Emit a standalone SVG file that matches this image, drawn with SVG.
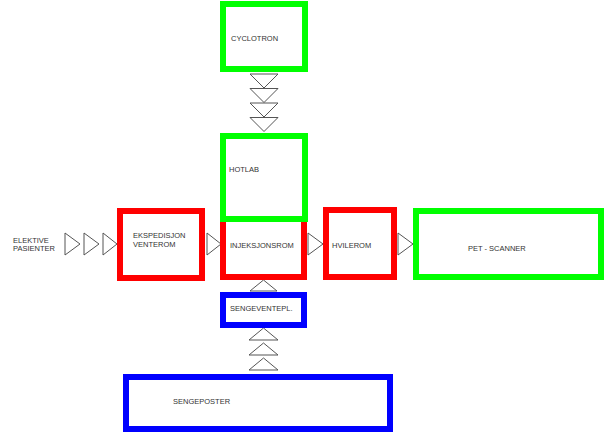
<svg xmlns="http://www.w3.org/2000/svg" width="609" height="443" viewBox="0 0 609 443">
<style>
.box{fill:#fff;stroke-width:6}
.r{stroke:#ff0000}.g{stroke:#00ff00}.b{stroke:#0000ff}
.tri{fill:#fff;stroke:#555;stroke-width:1}
text{font-family:"Liberation Sans",Arial,sans-serif;font-size:7.5px;fill:#333}
</style>
<rect width="609" height="443" fill="#fff"/>
<g id="connectors">
<polygon class="tri" points="65,233 80,244 65,255"/>
<polygon class="tri" points="84,233 99,244 84,255"/>
<polygon class="tri" points="103,233 117,244 103,255"/>
<polygon class="tri" points="207,233 221,244 207,255"/>
<polygon class="tri" points="308,233 323,244 308,255"/>
<polygon class="tri" points="398,233 413,244 398,255"/>
<polygon class="tri" points="250,74 278,74 264,88"/>
<polygon class="tri" points="250,88.5 278,88.5 264,102.5"/>
<polygon class="tri" points="250,103 278,103 264,117"/>
<polygon class="tri" points="250,117.5 278,117.5 264,131.5"/>
<polygon class="tri" points="250,291 277,291 263.5,280"/>
<polygon class="tri" points="249,340 278,340 263.5,328"/>
<polygon class="tri" points="249,355 278,355 263.5,343"/>
<polygon class="tri" points="249,370 278,370 263.5,358"/>
</g>
<g id="elektive"><text x="13" y="243">ELEKTIVE</text><text x="13" y="251">PASIENTER</text></g>
<g id="cyclotron"><rect class="box g" x="223" y="4" width="82" height="65"/><text x="231" y="41">CYCLOTRON</text></g>
<g id="ekspedisjon"><rect class="box r" x="120" y="211" width="82" height="67"/><text x="133" y="238">EKSPEDISJON</text><text x="133" y="247">VENTEROM</text></g>
<g id="injeksjonsrom"><rect class="box r" x="223" y="211" width="81" height="66"/><text x="230" y="248">INJEKSJONSROM</text></g>
<g id="hotlab"><rect class="box g" x="223" y="136" width="82" height="83"/><text x="229" y="172">HOTLAB</text></g>
<g id="hvilerom"><rect class="box r" x="326" y="210" width="68" height="67"/><text x="332" y="248">HVILEROM</text></g>
<g id="petscanner"><rect class="box g" x="416" y="211" width="185" height="66"/><text x="468" y="251">PET - SCANNER</text></g>
<g id="sengeventepl"><rect class="box b" x="223" y="295" width="81" height="30"/><text x="230" y="311">SENGEVENTEPL.</text></g>
<g id="sengeposter"><rect class="box b" x="126" y="377" width="264" height="52"/><text x="173" y="404">SENGEPOSTER</text></g>
</svg>
